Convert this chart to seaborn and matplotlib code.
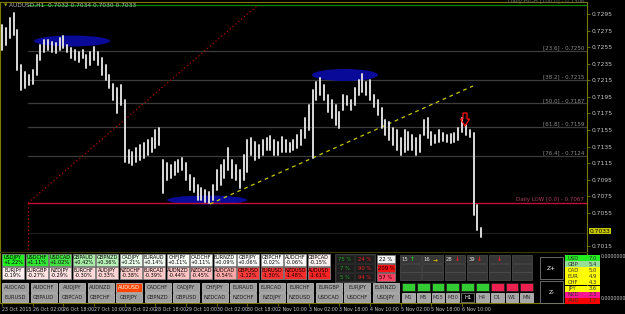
import matplotlib
matplotlib.use("Agg")
import matplotlib.pyplot as plt
import numpy as np
import pandas as pd
import seaborn as sns
from matplotlib.patches import Ellipse, Rectangle, Polygon
from matplotlib import font_manager

# ---------------- data ----------------
title_text = "AUDUSD,H1  0.7032 0.7034 0.7030 0.7033"
bars = list(range(0, 252, 2))
highs = [0.7282, 0.7278, 0.7290, 0.7296, 0.7276, 0.7233, 0.7225, 0.7221, 0.7227, 0.7245,
         0.7258, 0.7264, 0.7264, 0.7261, 0.7260, 0.7266, 0.7268, 0.7258, 0.7254, 0.7252,
         0.7249, 0.7252, 0.7245, 0.7249, 0.7255, 0.7249, 0.7242, 0.7233, 0.7221, 0.7210,
         0.7206, 0.7209, 0.7191, 0.7131, 0.7128, 0.7133, 0.7137, 0.7139, 0.7143, 0.7145,
         0.7155, 0.7157, 0.7119, 0.7115, 0.7113, 0.7116, 0.7119, 0.7121, 0.7115, 0.7101,
         0.7097, 0.7089, 0.7085, 0.7083, 0.7080, 0.7089, 0.7107, 0.7113, 0.7119, 0.7133,
         0.7119, 0.7113, 0.7107, 0.7125, 0.7143, 0.7145, 0.7140, 0.7137, 0.7143, 0.7145,
         0.7148, 0.7143, 0.7140, 0.7147, 0.7143, 0.7139, 0.7143, 0.7149, 0.7155, 0.7169,
         0.7185, 0.7203, 0.7213, 0.7218, 0.7209, 0.7197, 0.7191, 0.7185, 0.7177, 0.7197,
         0.7196, 0.7191, 0.7206, 0.7215, 0.7223, 0.7213, 0.7215, 0.7197, 0.7191, 0.7182,
         0.7167, 0.7165, 0.7157, 0.7155, 0.7145, 0.7155, 0.7153, 0.7149, 0.7145, 0.7149,
         0.7167, 0.7169, 0.7153, 0.7149, 0.7155, 0.7151, 0.7149, 0.7150, 0.7151, 0.7157,
         0.7169, 0.7161, 0.7155, 0.7151, 0.7064, 0.7037]
lows = [0.7252, 0.7258, 0.7266, 0.7270, 0.7227, 0.7203, 0.7206, 0.7209, 0.7210, 0.7221,
        0.7239, 0.7249, 0.7252, 0.7249, 0.7248, 0.7252, 0.7254, 0.7249, 0.7242, 0.7239,
        0.7237, 0.7242, 0.7230, 0.7233, 0.7239, 0.7233, 0.7221, 0.7215, 0.7206, 0.7191,
        0.7175, 0.7185, 0.7116, 0.7115, 0.7113, 0.7116, 0.7119, 0.7121, 0.7125, 0.7128,
        0.7133, 0.7137, 0.7079, 0.7095, 0.7097, 0.7101, 0.7104, 0.7107, 0.7095, 0.7083,
        0.7080, 0.7070, 0.7070, 0.7068, 0.7067, 0.7070, 0.7083, 0.7089, 0.7097, 0.7107,
        0.7097, 0.7095, 0.7085, 0.7095, 0.7104, 0.7125, 0.7119, 0.7121, 0.7125, 0.7131,
        0.7131, 0.7125, 0.7125, 0.7128, 0.7128, 0.7128, 0.7131, 0.7133, 0.7137, 0.7145,
        0.7155, 0.7121, 0.7191, 0.7197, 0.7191, 0.7177, 0.7169, 0.7161, 0.7157, 0.7179,
        0.7185, 0.7179, 0.7185, 0.7197, 0.7201, 0.7197, 0.7191, 0.7183, 0.7173, 0.7157,
        0.7149, 0.7143, 0.7137, 0.7131, 0.7125, 0.7128, 0.7131, 0.7131, 0.7125, 0.7128,
        0.7149, 0.7145, 0.7137, 0.7139, 0.7140, 0.7142, 0.7140, 0.7139, 0.7140, 0.7143,
        0.7153, 0.7149, 0.7147, 0.7052, 0.7034, 0.7026]

price_ticks = [0.7295, 0.7275, 0.7255, 0.7235, 0.7215, 0.7195, 0.7175, 0.7155,
               0.7135, 0.7115, 0.7095, 0.7075, 0.7055, 0.7015]
time_ticks = [0, 16, 32, 48, 64, 80, 96, 112, 128, 144, 160, 176, 192, 208, 224, 240]
time_labels = ["23 Oct 2015", "26 Oct 02:00", "26 Oct 18:00", "27 Oct 10:00",
               "28 Oct 02:00", "28 Oct 18:00", "29 Oct 10:00", "30 Oct 02:00",
               "30 Oct 18:00", "2 Nov 10:00", "3 Nov 02:00", "3 Nov 18:00",
               "4 Nov 10:00", "5 Nov 02:00", "5 Nov 18:00", "6 Nov 10:00"]

fib_names = ["[23.6]", "[38.2]", "[50.0]", "[61.8]", "[76.4]"]
fib_prices = [0.7250, 0.7215, 0.7187, 0.7159, 0.7124]
daily_high = 0.7306
daily_low = 0.7067
current_price = 0.7033

pairs_up = ["USDJPY", "USDCHF", "USDCAD", "GBPAUD", "GBPNZD", "CADJPY", "EURAUD",
            "CHFJPY", "CADCHF", "EURNZD", "GBPJPY", "GBPCHF", "AUDCHF", "GBPCAD"]
pct_up = [1.22, 1.11, 1.02, 0.42, 0.36, 0.21, 0.14, 0.11, 0.11, 0.09, 0.06, -0.02, -0.06, -0.15]
pairs_dn = ["EURJPY", "EURGBP", "NZDJPY", "EURCHF", "AUDJPY", "NZDCHF", "EURCAD",
            "AUDNZD", "NZDCAD", "AUDCAD", "GBPUSD", "EURUSD", "NZDUSD", "AUDUSD"]
pct_dn = [-0.19, -0.27, -0.29, -0.30, -0.33, -0.38, -0.39, -0.44, -0.45, -0.54, -1.12, -1.30, -1.48, -1.61]
buttons_row1 = ["AUDCAD", "AUDCHF", "AUDJPY", "AUDNZD", "AUDUSD", "CADCHF", "CADJPY",
                "CHFJPY", "EURAUD", "EURCAD", "EURCHF", "EURGBP", "EURJPY", "EURNZD"]
buttons_row2 = ["EURUSD", "GBPAUD", "GBPCAD", "GBPCHF", "GBPJPY", "GBPNZD", "GBPUSD",
                "NZDCAD", "NZDCHF", "NZDJPY", "NZDUSD", "USDCAD", "USDCHF", "USDJPY"]
stats_left = [75, 7, 5]
stats_right = [24, 90, 94]
stats_col = [22, 209, 57]
signal_counts = ["15", "16", "28", "39", "", ""]
signal_arrows = ["↑", "→", "↓", "↓", "↓", ""]
timeframes = ["M1", "M5", "M15", "M30", "H1", "H4", "D1", "W1", "MN"]
tf_up = [1, 1, 1, 1, 1, 1, 0, 0, 0]
currencies = ["USD", "GBP", "CAD", "EUR", "CHF", "JPY", "NZD", "AUD"]
strength = [7.0, 5.4, 5.0, 4.9, 4.3, 3.6, 2.3, 1.7]

# ---------------- styling ----------------
sns.set_style("dark")
installed = {f.name for f in font_manager.fontManager.ttflist}
NARROW = "Liberation Sans Narrow" if "Liberation Sans Narrow" in installed else "DejaVu Sans"
plt.rcParams['font.family'] = [NARROW, 'DejaVu Sans']
OLIVE = "#7a7a00"
TXT = "#c8c8c8"
W, H = 625, 314
PX_BAR = 1.917

def px2bar(px):
    return (px - 2) / PX_BAR

def py2price(py):
    return 0.7295 - (py - 14) * 0.0001207

fig = plt.figure(figsize=(W / 100, H / 100), dpi=100, facecolor="black")

# main price window
ax = fig.add_axes([0, (H - 251) / H, 587 / W, 249 / H])
ax.set_facecolor("black")
ax.set_xlim(px2bar(0), px2bar(587))
ax.set_ylim(py2price(251), py2price(2))

x0 = px2bar(28)
x1 = px2bar(587)
for p in fib_prices:
    ax.plot([x0, x1], [p, p], color="#3c3c3c", lw=0.9, zorder=1)
ax.plot([x0, x1], [py2price(233), py2price(233)], color="#1c1c1c", lw=0.9, zorder=1)
ax.plot([x0, x1], [daily_high, daily_high], color="#008a00", lw=0.9, zorder=1)
ax.plot([x0, x1], [daily_low, daily_low], color="#c0103a", lw=1.0, zorder=2)
ax.plot([x0, px2bar(258)], [daily_low, py2price(5)], color="#b00000", lw=0.9,
        linestyle=(0, (1, 2)), zorder=2)
ax.plot([x0, x0], [daily_low, py2price(251)], color="#c00000", lw=0.9,
        linestyle=(0, (1, 2)), zorder=2)
ax.plot([px2bar(210), px2bar(473)], [py2price(204), py2price(86)], color="#c8c800",
        lw=0.9, linestyle=(0, (3, 3)), zorder=3)

for cx, cy, w, h in [(72, 41, 76, 11), (345, 75, 66, 12), (207, 200, 80, 9)]:
    e = Ellipse((px2bar(cx), py2price(cy)), w / PX_BAR, h * 0.0001207,
                facecolor="#0a0a98", edgecolor="none", zorder=1.5)
    ax.add_patch(e)

# price bars via seaborn (one vertical high-low segment per bar)
df = pd.DataFrame({"bar": bars + bars, "price": highs + lows})
sns.lineplot(data=df, x="bar", y="price", units="bar", estimator=None, sort=False,
             color="#dadada", lw=1.4, ax=ax, zorder=4, legend=False)

ax.add_patch(Polygon([(px2bar(463), py2price(113)), (px2bar(467), py2price(113)),
                      (px2bar(467), py2price(119)), (px2bar(469.5), py2price(119)),
                      (px2bar(465), py2price(126)), (px2bar(460.5), py2price(119)),
                      (px2bar(463), py2price(119))],
                     closed=True, facecolor="none", edgecolor="#ff1010", lw=0.9, zorder=5))

for name, p in zip(fib_names, fib_prices):
    ax.text(px2bar(584), p + 0.00006, f"{name} - {p:.4f}", color="#8c8c8c",
            fontsize=4.0, ha="right", va="bottom", zorder=6)
ax.text(px2bar(584), daily_low + 0.00006, f"Daily LOW [0.0] - {daily_low:.4f}",
        color="#b04060", fontsize=4.0, ha="right", va="bottom", zorder=6)
ax.text(px2bar(584), daily_high + 0.00006, f"Daily HIGH [100.0] - {daily_high:.4f}",
        color="#707070", fontsize=4.0, ha="right", va="bottom", zorder=6, clip_on=False)

ax.set_xlabel("")
ax.set_ylabel("")
ax.yaxis.tick_right()
ax.set_yticks(price_ticks)
ax.set_yticklabels([f"{t:.4f}" for t in price_ticks])
ax.tick_params(axis="y", colors=OLIVE, labelcolor=TXT, labelsize=4.3, length=2,
               width=0.6, pad=1.5, right=True)
ax.tick_params(axis="x", bottom=False, labelbottom=False)
ax.grid(False)
for s in ["left", "right", "top"]:
    ax.spines[s].set_visible(True)
    ax.spines[s].set_color(OLIVE)
    ax.spines[s].set_linewidth(0.8)
ax.spines["bottom"].set_visible(False)

ax.text(px2bar(589.5), current_price, f"{current_price:.4f}", color="black", fontsize=4.3,
        ha="left", va="center", clip_on=False, zorder=10,
        bbox=dict(boxstyle="square,pad=0.15", fc="#c8c800", ec="none"))

# sub window with time axis
axs = fig.add_axes([0, (H - 303) / H, 587 / W, 51 / H], sharex=ax)
axs.set_facecolor("black")
axs.set_ylim(0, 1)
axs.set_yticks([])
axs.set_xticks(time_ticks)
axs.set_xticklabels(time_labels)
for lab in axs.get_xticklabels():
    lab.set_horizontalalignment("left")
axs.tick_params(axis="x", colors=OLIVE, labelcolor=TXT, labelsize=3.4, length=2,
                width=0.6, pad=1.2, bottom=True)
axs.grid(False)
for s in ["left", "right", "top", "bottom"]:
    axs.spines[s].set_color(OLIVE)
    axs.spines[s].set_linewidth(0.8)
axs.spines["top"].set_color("#3a3a00")

# overlay panel in pixel coords
ov = fig.add_axes([0, 0, 1, 1])
ov.set_xlim(0, W)
ov.set_ylim(H, 0)
ov.axis("off")
ov.patch.set_alpha(0)

def box(x, y, w, h, fc, ec="#606060", text=None, tc="black", fs=3.6, lw=0.5, **kw):
    ov.add_patch(Rectangle((x, y), w, h, facecolor=fc, edgecolor=ec, lw=lw))
    if text is not None:
        ov.text(x + w / 2, y + h / 2 + 0.3, text, color=tc, fontsize=fs,
                ha="center", va="center", linespacing=0.95, **kw)

ov.text(4, 5.5, "▼", color="#a0a000", fontsize=3.2, ha="left", va="center",
        family="DejaVu Sans")
ov.text(9, 5.5, title_text, color="#b8b8b8", fontsize=4.2, ha="left", va="center")

up_colors = ["#22ee22", "#33e633", "#44e044", "#a8eca8", "#b8f0b8", "#e8fbe8", "#f2fbf2",
             "#f6fbf6", "#f6fbf6", "#f8fbf8", "#fafafa", "#fafafa", "#fcf6f6", "#fdeeee"]
dn_colors = ["#ffeeee", "#ffe2e2", "#ffe0e0", "#ffdada", "#ffd4d4", "#ffcccc", "#ffcaca",
             "#ffc4c4", "#ffbcbc", "#ffa8a8", "#ff3c3c", "#ff3333", "#ff2a2a", "#ff2424"]
for i in range(14):
    x = 2 + 23.5 * i
    box(x, 254, 22, 12, up_colors[i], "#909090",
        f"{pairs_up[i]}\n{pct_up[i]:+.2f}%", fs=3.6)
    box(x, 267, 22, 12, dn_colors[i], "#909090",
        f"{pairs_dn[i]}\n{pct_dn[i]:+.2f}%", fs=3.6)

box(335, 254, 40, 28, "#141414", "#505050")
for r in range(3):
    y = 255 + 9 * r
    box(336, y, 18, 8, "#1e1e1e", "#303030", f"{stats_left[r]} %", tc="#22aa22", fs=3.8)
    box(355, y, 19, 8, "#1e1e1e", "#303030", f"{stats_right[r]} %", tc="#ee2020", fs=3.8)
col_bg = ["#f4f4f4", "#ff1010", "#ff4060"]
for r in range(3):
    box(377, 255 + 9 * r, 18, 8, col_bg[r], "#808080", f"{stats_col[r]} %", fs=3.8)

arrow_cols = ["#22cc22", "#e0c000", "#ff2020", "#ff2020", "#ff2020", "#ff2020"]
for r in range(3):
    for j in range(6):
        x = 400 + 22.3 * j
        y = 255 + 8.6 * r
        box(x, y, 20.5, 8, "#363636", "#505050")
        if r == 0:
            ov.text(x + 8, y + 4.3, signal_counts[j], color="#e0e0e0", fontsize=3.8,
                    ha="right", va="center")
            ov.text(x + 12.5 if signal_counts[j] else x + 10.25, y + 4.3, signal_arrows[j],
                    color=arrow_cols[j], fontsize=4.2, ha="center", va="center",
                    fontweight="bold", family="DejaVu Sans")
for j in range(9):
    x = 402 + 14.8 * j
    box(x, 283, 12.8, 7.5, "#33cc33" if tf_up[j] else "#ee2050", "#202020")
    if timeframes[j] == "H1":
        box(x, 293, 12.8, 9, "#000000", "#909090", timeframes[j], tc="white", fs=3.7)
    else:
        box(x, 293, 12.8, 9, "#a8a8a8", "#d0d0d0", timeframes[j], tc="#303030", fs=3.7)

box(540, 257, 23, 22, "black", "#909090", "Z+", tc="white", fs=4.2)
box(540, 281, 23, 22, "black", "#909090", "Z-", tc="white", fs=4.2)

str_colors = ["#22ee22", "#99dd99", "#ffff00", "#ffff00", "#ffff00", "#ffff00",
              "#ff1493", "#ff0000"]
for i, (c, v) in enumerate(zip(currencies, strength)):
    y = 255 + 6.1 * i
    ov.add_patch(Rectangle((565, y), 35, 6, facecolor=str_colors[i], edgecolor="none"))
    ov.text(568, y + 3.2, c, color="#303030", fontsize=3.8, ha="left", va="center")
    ov.text(597, y + 3.2, f"{v:.1f}", color="#303030", fontsize=3.8, ha="right", va="center")

for i in range(14):
    x = 2 + 28.5 * i
    fc, tc = ("#ff4500", "white") if buttons_row1[i] == "AUDUSD" else ("#a0a0a0", "#202020")
    box(x, 283, 26, 8.5, fc, "#d0d0d0", buttons_row1[i], tc=tc, fs=3.7)
    box(x, 293, 26, 8.5, "#a0a0a0", "#d0d0d0", buttons_row2[i], tc="#202020", fs=3.7)

ov.text(601, 256, "0.0000000", color=TXT, fontsize=3.4, ha="left", va="center")
ov.text(601, 299, "0.0000000", color=TXT, fontsize=3.4, ha="left", va="center")

fig.savefig("out.png", dpi=100, facecolor="black")
